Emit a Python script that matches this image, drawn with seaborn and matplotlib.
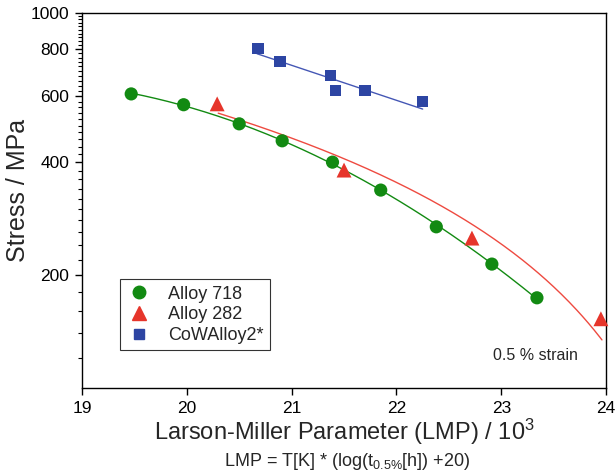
import numpy as np
import pandas as pd
import matplotlib
matplotlib.use("Agg")
import matplotlib.pyplot as plt
import seaborn as sns
from matplotlib.lines import Line2D
from matplotlib.ticker import NullFormatter

# ---- data ----
lmp_718 = [19.47, 19.97, 20.50, 20.91, 21.39, 21.85, 22.38, 22.91, 23.34]
stress_718 = [608, 569, 506, 456, 400, 337, 269, 214, 174]

lmp_282 = [20.29, 21.50, 22.72, 23.95]
stress_282 = [572, 381, 251, 153]

lmp_cow = [20.68, 20.89, 21.37, 21.42, 21.70, 22.25]
stress_cow = [802, 741, 682, 622, 622, 581]

# fit curves
fit282_lmp = [20.30, 21.65, 22.72, 23.30, 23.62, 23.96]
fit282_stress = [541, 391, 269, 215, 175, 130]
fitcow_lmp = [20.67, 22.25]
fitcow_stress = [778, 554]

series_names = ["Alloy 718", "Alloy 282", "CoWAlloy2*"]
major_yticks = [200, 400, 600, 800, 1000]
minor_yticks = [v for v in range(120, 1000, 20) if v not in major_yticks]
xticks = [19, 20, 21, 22, 23, 24]

c_green = "#128a12"
c_red = "#e6352b"
c_blue = "#2d45a3"

sns.set_theme(style="ticks")
plt.rcParams["font.family"] = ["Liberation Sans", "DejaVu Sans"]
plt.rcParams["mathtext.default"] = "regular"

fig = plt.figure(figsize=(6.16, 4.75), dpi=100)
ax = fig.add_axes([0.133, 0.183, 0.851, 0.790])

df = pd.DataFrame({
    "LMP": lmp_718 + lmp_282 + lmp_cow,
    "Stress": stress_718 + stress_282 + stress_cow,
    "Alloy": [series_names[0]] * len(lmp_718) + [series_names[1]] * len(lmp_282)
             + [series_names[2]] * len(lmp_cow),
})

# fit lines
x718 = np.linspace(min(lmp_718), max(lmp_718), 200)
c718 = np.polyfit(lmp_718, np.log10(stress_718), 2)
sns.lineplot(x=x718, y=10 ** np.polyval(c718, x718), ax=ax, color=c_green, lw=1.0, zorder=2)

x282 = np.linspace(min(fit282_lmp), max(fit282_lmp), 200)
c282 = np.polyfit(fit282_lmp, fit282_stress, 2)
sns.lineplot(x=x282, y=np.polyval(c282, x282), ax=ax, color="#ee4a40", lw=1.0, zorder=2)

sns.lineplot(x=fitcow_lmp, y=fitcow_stress, ax=ax, color="#4557b5", lw=1.0, zorder=2)

palette = {series_names[0]: c_green, series_names[1]: c_red, series_names[2]: c_blue}
markers = {series_names[0]: "o", series_names[1]: "^", series_names[2]: "s"}
sizes = {series_names[0]: 90, series_names[1]: 115, series_names[2]: 65}
for name in series_names:
    sub = df[df["Alloy"] == name]
    sns.scatterplot(data=sub, x="LMP", y="Stress", ax=ax, color=palette[name],
                    marker=markers[name], s=sizes[name], edgecolor="none",
                    zorder=3, legend=False, clip_on=False)

ax.set_yscale("log")
ax.set_xlim(19, 24)
ax.set_ylim(100, 1000)
ax.set_xticks(xticks)
ax.set_xticklabels([str(t) for t in xticks])
ax.set_yticks(major_yticks)
ax.set_yticklabels([str(t) for t in major_yticks])
ax.set_yticks(minor_yticks, minor=True)
ax.yaxis.set_minor_formatter(NullFormatter())

for s in ax.spines.values():
    s.set_color("black")
    s.set_linewidth(1.0)
ax.tick_params(axis="both", which="major", direction="out", length=5, width=1.0,
               labelsize=12.5, color="black", labelcolor="black", top=False, right=False,
               bottom=True, left=True, pad=4)
ax.tick_params(axis="y", which="minor", direction="out", length=3, width=0.8,
               left=True, right=False, color="black")
ax.tick_params(axis="x", which="minor", bottom=False, top=False)

ax.set_xlabel("Larson-Miller Parameter (LMP) / 10$^3$", fontsize=17, labelpad=1)
ax.set_ylabel("Stress / MPa", fontsize=18)
ax.yaxis.set_label_coords(-0.1, 0.527)
fig.text(0.563, 0.028, "LMP = T[K] * (log(t$_{0.5\\%}$[h]) +20)", ha="center",
         va="center", fontsize=13)

ax.text(0.866, 0.088, "0.5 % strain", transform=ax.transAxes, ha="center",
        va="center", fontsize=11.5)

handles = [
    Line2D([], [], ls="none", marker="o", color=c_green, markersize=9),
    Line2D([], [], ls="none", marker="^", color=c_red, markersize=10),
    Line2D([], [], ls="none", marker="s", color=c_blue, markersize=7),
]
leg = ax.legend(handles, series_names, loc="lower left",
                bbox_to_anchor=(0.0725, 0.101), borderaxespad=0,
                fontsize=13, frameon=True, fancybox=False, edgecolor="black",
                handletextpad=0.9, labelspacing=0.2, borderpad=0.35,
                handlelength=1.4)
leg.get_frame().set_linewidth(0.8)

fig.savefig("out.png", dpi=100)
